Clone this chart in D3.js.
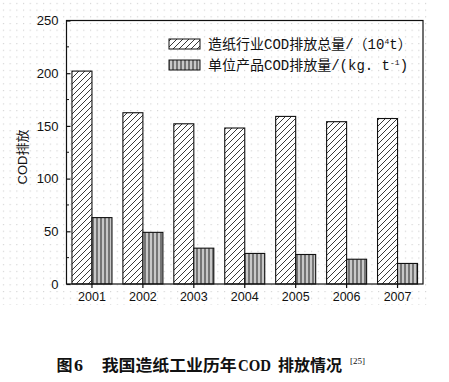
<!DOCTYPE html>
<html><head><meta charset="utf-8">
<script src="https://cdn.jsdelivr.net/npm/d3@7"></script>
<style>body{margin:0;background:#fff}svg{display:block}</style>
</head><body>
<script>
const years = ["2001","2002","2003","2004","2005","2006","2007"];
const totalCOD = [202, 162.5, 152, 148, 159, 154, 157];
const unitCOD = [63, 49, 34, 29, 28, 23.5, 19.5];
const yTicks = [0, 50, 100, 150, 200, 250];
const seriesNames = ["造纸行业COD排放总量/（10", "单位产品COD排放量/(kg. t"];

const W = 449, H = 382;
const svg = d3.select("body").append("svg").attr("width", W).attr("height", H);
const defs = svg.append("defs");

// scan-dot background
const dp = defs.append("pattern").attr("id","dots").attr("patternUnits","userSpaceOnUse")
  .attr("width",6.7).attr("height",6.7);
dp.append("rect").attr("x",3).attr("y",3).attr("width",1).attr("height",1).attr("fill","#c4c4c4");
svg.append("rect").attr("x",0).attr("y",0).attr("width",430).attr("height",305).attr("fill","url(#dots)");

const hp = defs.append("pattern").attr("id","hatch").attr("patternUnits","userSpaceOnUse")
  .attr("width",6).attr("height",6);
hp.append("rect").attr("width",6).attr("height",6).attr("fill","#fff");
hp.append("path").attr("d","M0,6 L6,0 M-1.5,1.5 L1.5,-1.5 M4.5,7.5 L7.5,4.5")
  .attr("stroke","#222").attr("stroke-width",0.9);

const vp = defs.append("pattern").attr("id","vert").attr("patternUnits","userSpaceOnUse")
  .attr("width",4).attr("height",4);
vp.append("rect").attr("width",4).attr("height",4).attr("fill","#c8c8c8");
vp.append("line").attr("x1",1).attr("x2",1).attr("y1",0).attr("y2",4).attr("stroke","#222").attr("stroke-width",1);

const m = {l:66.5, r:423, t:20.5, b:284};
const x = d3.scaleBand().domain(years).range([m.l, m.r]).paddingInner(0.2141).paddingOuter(0.107);
const y = d3.scaleLinear().domain([0,250]).range([m.b, m.t]);
const bw = 20;

const g = svg.append("g");
years.forEach((yr,i)=>{
  const cx = x(yr) + x.bandwidth()/2;
  g.append("rect").attr("x", cx-bw).attr("y", y(totalCOD[i])).attr("width", bw)
    .attr("height", y(0)-y(totalCOD[i])).attr("fill","url(#hatch)").attr("stroke","#111").attr("stroke-width",1.1);
  g.append("rect").attr("x", cx).attr("y", y(unitCOD[i])).attr("width", bw)
    .attr("height", y(0)-y(unitCOD[i])).attr("fill","url(#vert)").attr("stroke","#111").attr("stroke-width",1.1);
});

// frame
svg.append("rect").attr("x",m.l).attr("y",m.t).attr("width",m.r-m.l).attr("height",m.b-m.t)
  .attr("fill","none").attr("stroke","#111").attr("stroke-width",1.2);

// y axis
const ya = svg.append("g").attr("transform",`translate(${m.l},0)`)
  .call(d3.axisLeft(y).tickValues(yTicks).tickSize(-4).tickPadding(8));
ya.select(".domain").remove();
ya.selectAll("line").attr("stroke","#111").attr("stroke-width",1.2);
ya.selectAll("text").attr("font-family","Liberation Sans, Arial, sans-serif").attr("font-size",13).attr("fill","#111");
const minor = d3.range(25,250,50);
svg.append("g").selectAll("line").data(minor).join("line")
  .attr("x1",m.l).attr("x2",m.l+2.5).attr("y1",d=>y(d)).attr("y2",d=>y(d)).attr("stroke","#111");

// x axis
const xa = svg.append("g").attr("transform",`translate(0,${m.b})`)
  .call(d3.axisBottom(x).tickSize(4).tickPadding(4));
xa.select(".domain").remove();
xa.selectAll("line").attr("stroke","#111").attr("stroke-width",1.2);
xa.selectAll("text").attr("font-family","Liberation Sans, Arial, sans-serif").attr("font-size",12.5).attr("fill","#111");

// y label
svg.append("text").attr("transform","translate(27,157) rotate(-90)").attr("text-anchor","middle")
  .attr("font-family","Liberation Sans, Noto Sans CJK SC, sans-serif").attr("font-size",13).attr("fill","#111").text("COD排放");

// legend
const lf = "Liberation Mono, Noto Sans CJK SC, monospace";
const leg = [{fill:"url(#hatch)", y:39, sup:"4", tail:"t）"},{fill:"url(#vert)", y:60, sup:"-1", tail:")"}];
leg.forEach((L,i)=>{
  svg.append("rect").attr("x",169).attr("y",L.y).attr("width",31).attr("height",10)
    .attr("fill",L.fill).attr("stroke","#111").attr("stroke-width",1);
  const t = svg.append("text").attr("x",208).attr("y",L.y+10).attr("font-family",lf).attr("font-size",14).attr("fill","#111");
  t.append("tspan").text(seriesNames[i]);
  t.append("tspan").attr("dy",-5).attr("font-size",8).text(L.sup);
  t.append("tspan").attr("dy",5).text(L.tail);
});

// caption
const cf = "Liberation Serif, Noto Sans CJK SC, serif";
const capParts = [
  {t:"图", x:56.5, w:16},
  {t:"6", x:74, w:9},
  {t:"我国造纸工业历年", x:101.7, w:135},
  {t:"COD", x:238, w:33},
  {t:"排放情况", x:278, w:64}
];
capParts.forEach(p=>{
  svg.append("text").attr("x",p.x).attr("y",371).attr("font-size",16).attr("font-weight","bold")
    .attr("font-family",cf).attr("fill","#111").attr("textLength",p.w).attr("lengthAdjust","spacingAndGlyphs").text(p.t);
});
svg.append("text").attr("x",350).attr("y",364).attr("font-size",8.5).attr("font-family",cf).attr("fill","#111")
  .attr("textLength",15).attr("lengthAdjust","spacingAndGlyphs").text("[25]");
</script>
</body></html>
